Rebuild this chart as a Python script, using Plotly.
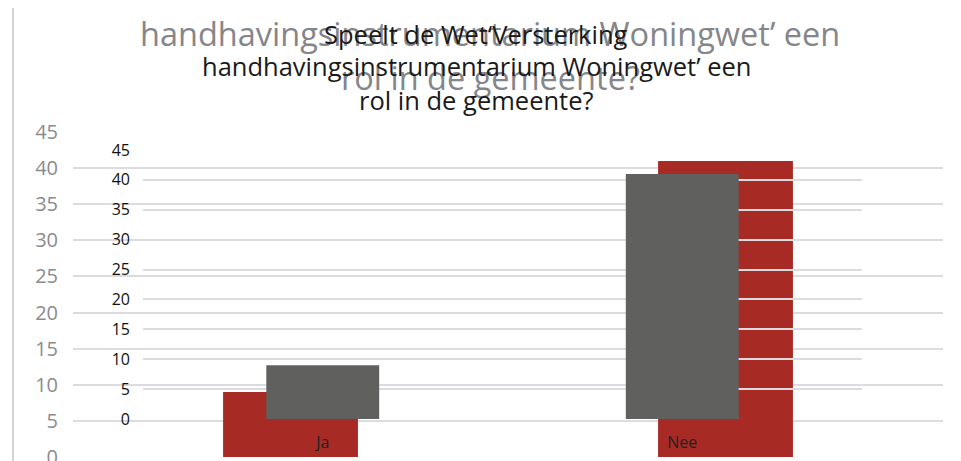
import plotly.graph_objects as go

# antwoorden
categories = ['Ja', 'Nee']
back_values = [9, 41]
front_values = [9, 41]
tick_vals = [0, 5, 10, 15, 20, 25, 30, 35, 40, 45]

title_lines = [
    'Speelt de Wet\u2018Versterking',
    'handhavingsinstrumentarium Woningwet\u2019 een',
    'rol in de gemeente?',
]
back_title_lines = [
    'Speelt de Wet \u2018Versterking',
    'handhavingsinstrumentarium Woningwet\u2019 een',
    'rol in de gemeente?',
]

W, H = 961, 461
OFF = 8  # pagina-marge van de browser


def py(p):
    return (H - (p - OFF)) / H


def px(p):
    return (p - OFF) / W


fig = go.Figure()

# achterste grafiek (rood)
fig.add_trace(
    go.Bar(
        x=categories,
        y=back_values,
        marker=dict(color='#A82A24', line=dict(width=0)),
        width=0.31,
        xaxis='x',
        yaxis='y',
    )
)

# voorste grafiek (grijs)
fig.add_trace(
    go.Bar(
        x=categories,
        y=front_values,
        marker=dict(color='#60605E', line=dict(width=0)),
        width=0.314,
        xaxis='x2',
        yaxis='y2',
    )
)

annotations = []
# grijze titel achter, eerste regel valt buiten beeld
for txt, yc in zip(back_title_lines, [-60, 33, 78]):
    annotations.append(dict(
        text=txt, x=px(490), y=py(yc), xref='paper', yref='paper',
        xanchor='center', yanchor='middle', showarrow=False,
        font=dict(family='Open Sans', size=32.5, color='#85868A'),
    ))
for txt, yc in zip(title_lines, [34, 66, 100]):
    annotations.append(dict(
        text=txt, x=px(476), y=py(yc), xref='paper', yref='paper',
        xanchor='center', yanchor='middle', showarrow=False,
        font=dict(family='Open Sans', size=25.5, color='#1a1a1a'),
    ))

fig.update_layout(
    {
        "template": "none",
        "width": W,
        "height": H,
        "margin": dict(l=0, r=0, t=0, b=0, autoexpand=False),
        "paper_bgcolor": "white",
        "plot_bgcolor": "rgba(0,0,0,0)",
        "showlegend": False,
        "barmode": "overlay",
        "xaxis": dict(
            domain=[px(73), px(943)], showticklabels=False, showgrid=False,
            zeroline=False, showline=False, anchor='y', automargin=False,
        ),
        "yaxis": dict(
            domain=[py(457), py(132)], range=[0, 45], tickvals=tick_vals,
            gridcolor='#DCDCE0', gridwidth=1.5, zeroline=False, showline=False,
            ticks='', tickfont=dict(family='Open Sans', size=20, color='#8A8B8E'),
            ticklabelstandoff=14, ticklabeloverflow='allow',
            anchor='x', automargin=False,
        ),
        "xaxis2": dict(
            domain=[px(143), px(862)], showgrid=False, zeroline=False,
            showline=False, ticks='', anchor='y2', automargin=False,
            tickfont=dict(family='Open Sans', size=16, color='#222222'),
            ticklabelstandoff=12,
        ),
        "yaxis2": dict(
            domain=[py(419), py(150)], range=[0, 45], tickvals=tick_vals,
            gridcolor='#DCDCE0', gridwidth=1.5, zeroline=False, showline=False,
            ticks='', tickfont=dict(family='Open Sans', size=16, color='#111111'),
            ticklabelstandoff=12, anchor='x2', automargin=False,
        ),
        "annotations": annotations,
        "shapes": [
            dict(type='line', xref='paper', yref='paper', x0=px(13), x1=px(13),
                 y0=0, y1=1, line=dict(color='#D4D4D8', width=2)),
        ],
    }
)

fig.write_html("out.html")
